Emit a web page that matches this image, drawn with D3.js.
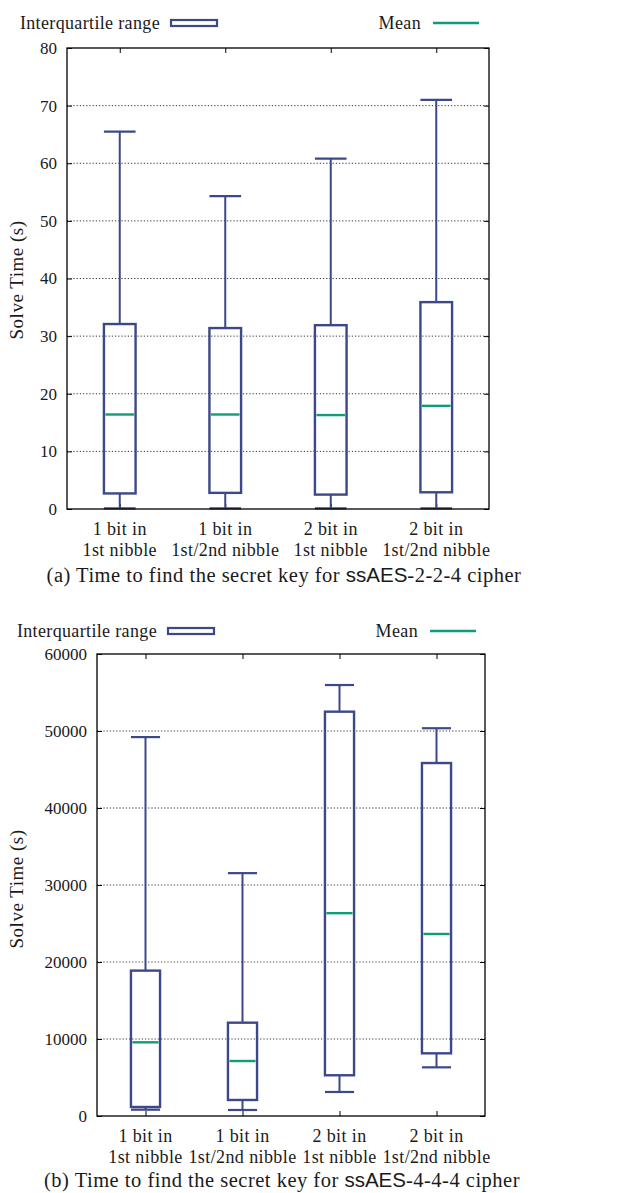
<!DOCTYPE html>
<html>
<head>
<meta charset="utf-8">
<script src="https://cdnjs.cloudflare.com/ajax/libs/d3/7.8.5/d3.min.js"></script>
<style>
  body { margin: 0; background: #fff; }
  svg { display: block; }
</style>
</head>
<body>
<div id="chart"></div>
<script>
// categories, shared by both panels (two lines each)
var categories = [
  ["1 bit in", "1st nibble"],
  ["1 bit in", "1st/2nd nibble"],
  ["2 bit in", "1st nibble"],
  ["2 bit in", "1st/2nd nibble"]
];

// (a) ssAES-2-2-4, seconds
var aWhiskLow  = [0.1, 0.1, 0.1, 0.1];
var aQ1        = [2.7, 2.8, 2.5, 2.9];
var aMean      = [16.4, 16.4, 16.3, 17.9];
var aQ3        = [32.1, 31.4, 31.9, 35.9];
var aWhiskHigh = [65.5, 54.3, 60.8, 71.0];
var aTicks     = [0, 10, 20, 30, 40, 50, 60, 70, 80];

// (b) ssAES-4-4-4, seconds
var bWhiskLow  = [820, 780, 3120, 6320];
var bQ1        = [1170, 2080, 5290, 8140];
var bMean      = [9570, 7140, 26340, 23640];
var bQ3        = [18880, 12120, 52510, 45840];
var bWhiskHigh = [49210, 31540, 55970, 50360];
var bTicks     = [0, 10000, 20000, 30000, 40000, 50000, 60000];

var captionA = ["(a) Time to find the secret key for ", "ssAES", "-2-2-4 cipher"];
var captionB = ["(b) Time to find the secret key for ", "ssAES", "-4-4-4 cipher"];

var boxColor = "#3d4888";
var meanColor = "#0f9c78";
var textColor = "#1a1a1a";
var serif = "'Liberation Serif', 'Times New Roman', serif";
var sans = "'Liberation Sans', Arial, sans-serif";

var svg = d3.select("#chart").append("svg")
  .attr("width", 628)
  .attr("height", 1193)
  .attr("font-family", serif);

function buildRows(lo, q1, mean, q3, hi) {
  return categories.map(function(c, i) {
    return { idx: i + 1, label: c, lo: lo[i], q1: q1[i], mean: mean[i], q3: q3[i], hi: hi[i] };
  });
}

function drawPanel(p) {
  var g = svg.append("g");
  var x = d3.scaleLinear().domain([0.5, 4.5]).range([p.left, p.right]);
  var y = d3.scaleLinear().domain([0, p.ticks[p.ticks.length - 1]]).range([p.bottom, p.top]);
  var bw = (x(2) - x(1)) * 0.3;

  // grid
  g.append("g").selectAll("line")
    .data(p.ticks.slice(1, -1))
    .enter().append("line")
      .attr("x1", p.left).attr("x2", p.right)
      .attr("y1", function(d) { return y(d); })
      .attr("y2", function(d) { return y(d); })
      .attr("stroke", "#000")
      .attr("stroke-width", 0.8)
      .attr("stroke-dasharray", "1.2,2");

  // y axis left + right ticks (inward)
  var yAxisL = d3.axisLeft(y).tickValues(p.ticks).tickSize(-5).tickPadding(10).tickFormat(d3.format("d"));
  var yl = g.append("g").attr("transform", "translate(" + p.left + ",0)").call(yAxisL);
  yl.select(".domain").remove();
  yl.selectAll("text").attr("font-size", 17).attr("font-family", serif).attr("fill", textColor);
  yl.selectAll("line").attr("stroke", "#000");

  var yAxisR = d3.axisRight(y).tickValues(p.ticks).tickSize(-5).tickFormat("");
  var yr = g.append("g").attr("transform", "translate(" + p.right + ",0)").call(yAxisR);
  yr.select(".domain").remove();

  // x ticks top + bottom (inward)
  var xAxisT = d3.axisTop(x).tickValues([1, 2, 3, 4]).tickSize(-5).tickFormat("");
  var xt = g.append("g").attr("transform", "translate(0," + p.top + ")").call(xAxisT);
  xt.select(".domain").remove();
  var xAxisB = d3.axisBottom(x).tickValues([1, 2, 3, 4]).tickSize(-5).tickFormat("");
  var xb = g.append("g").attr("transform", "translate(0," + p.bottom + ")").call(xAxisB);
  xb.select(".domain").remove();

  // category labels
  var lab = g.append("g").selectAll("text")
    .data(p.rows)
    .enter().append("text")
      .attr("text-anchor", "middle")
      .attr("font-size", 18)
      .attr("letter-spacing", 0.4)
      .attr("fill", textColor);
  lab.append("tspan")
    .attr("x", function(d) { return x(d.idx); })
    .attr("y", p.bottom + 26)
    .text(function(d) { return d.label[0]; });
  lab.append("tspan")
    .attr("x", function(d) { return x(d.idx); })
    .attr("y", p.bottom + 47)
    .text(function(d) { return d.label[1]; });

  // boxes
  var box = g.append("g").selectAll("g")
    .data(p.rows)
    .enter().append("g");

  box.append("line")
    .attr("x1", function(d) { return x(d.idx); })
    .attr("x2", function(d) { return x(d.idx); })
    .attr("y1", function(d) { return y(d.q3); })
    .attr("y2", function(d) { return y(d.hi); })
    .attr("stroke", boxColor).attr("stroke-width", 2);
  box.append("line")
    .attr("x1", function(d) { return x(d.idx); })
    .attr("x2", function(d) { return x(d.idx); })
    .attr("y1", function(d) { return y(d.lo); })
    .attr("y2", function(d) { return y(d.q1); })
    .attr("stroke", boxColor).attr("stroke-width", 2);
  box.append("line")
    .attr("x1", function(d) { return x(d.idx) - bw / 2; })
    .attr("x2", function(d) { return x(d.idx) + bw / 2; })
    .attr("y1", function(d) { return y(d.hi); })
    .attr("y2", function(d) { return y(d.hi); })
    .attr("stroke", boxColor).attr("stroke-width", 2.2);
  box.append("line")
    .attr("x1", function(d) { return x(d.idx) - bw / 2; })
    .attr("x2", function(d) { return x(d.idx) + bw / 2; })
    .attr("y1", function(d) { return y(d.lo); })
    .attr("y2", function(d) { return y(d.lo); })
    .attr("stroke", boxColor).attr("stroke-width", 2.2);
  box.append("rect")
    .attr("x", function(d) { return x(d.idx) - bw / 2; })
    .attr("width", bw)
    .attr("y", function(d) { return y(d.q3); })
    .attr("height", function(d) { return y(d.q1) - y(d.q3); })
    .attr("fill", "none")
    .attr("stroke", boxColor).attr("stroke-width", 2.4);
  box.append("line")
    .attr("x1", function(d) { return x(d.idx) - bw / 2 + 1.5; })
    .attr("x2", function(d) { return x(d.idx) + bw / 2 - 1.5; })
    .attr("y1", function(d) { return y(d.mean); })
    .attr("y2", function(d) { return y(d.mean); })
    .attr("stroke", meanColor).attr("stroke-width", 2.4);

  // frame
  g.append("rect")
    .attr("x", p.left).attr("y", p.top)
    .attr("width", p.right - p.left).attr("height", p.bottom - p.top)
    .attr("fill", "none").attr("stroke", "#000").attr("stroke-width", 1.3);

  // y label
  g.append("text")
    .attr("transform", "translate(" + 23 + "," + p.labelY + ") rotate(-90)")
    .attr("text-anchor", "middle")
    .attr("font-size", 19)
    .attr("letter-spacing", 0.5)
    .attr("fill", textColor)
    .text("Solve Time (s)");

  // legend
  var ly = p.legendY;
  g.append("text")
    .attr("x", p.legX1).attr("y", ly + 6)
    .attr("text-anchor", "end").attr("font-size", 18).attr("letter-spacing", 0.35)
    .attr("fill", textColor)
    .text("Interquartile range");
  g.append("rect")
    .attr("x", p.legX1 + 11).attr("y", ly - 3)
    .attr("width", 46).attr("height", 6)
    .attr("fill", "none").attr("stroke", boxColor).attr("stroke-width", 2.2);
  g.append("text")
    .attr("x", p.legX2).attr("y", ly + 6)
    .attr("text-anchor", "end").attr("font-size", 18).attr("letter-spacing", 0.35)
    .attr("fill", textColor)
    .text("Mean");
  g.append("line")
    .attr("x1", p.legX2 + 12).attr("x2", p.legX2 + 58)
    .attr("y1", ly).attr("y2", ly)
    .attr("stroke", meanColor).attr("stroke-width", 2.4);

  // caption
  var cap = g.append("text")
    .attr("x", p.capX).attr("y", p.capY)
    .attr("text-anchor", "middle").attr("font-size", 20.5).attr("letter-spacing", 0.5)
    .attr("fill", textColor);
  cap.append("tspan").text(p.caption[0]);
  cap.append("tspan").attr("font-family", sans).attr("letter-spacing", 0).text(p.caption[1]);
  cap.append("tspan").text(p.caption[2]);
}

drawPanel({
  left: 67, right: 489, top: 48, bottom: 509,
  ticks: aTicks,
  rows: buildRows(aWhiskLow, aQ1, aMean, aQ3, aWhiskHigh),
  labelY: 280,
  legendY: 23, legX1: 160, legX2: 421,
  caption: captionA, capX: 284, capY: 582
});

drawPanel({
  left: 97, right: 485, top: 654, bottom: 1116,
  ticks: bTicks,
  rows: buildRows(bWhiskLow, bQ1, bMean, bQ3, bWhiskHigh),
  labelY: 889,
  legendY: 631, legX1: 157, legX2: 418,
  caption: captionB, capX: 282, capY: 1187
});
</script>
</body>
</html>
